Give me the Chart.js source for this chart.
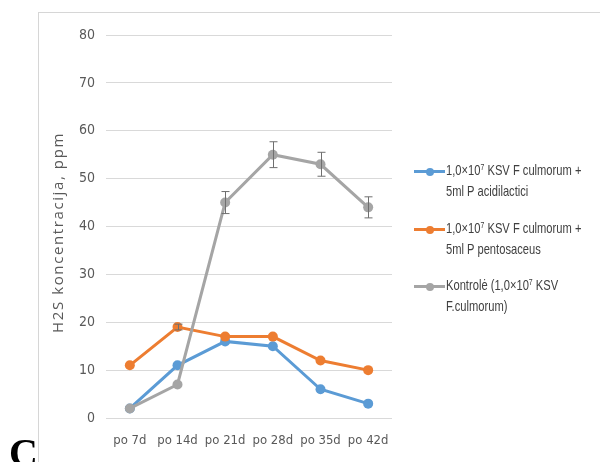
<!DOCTYPE html>
<html>
<head>
<meta charset="utf-8">
<script src="https://cdn.jsdelivr.net/npm/chart.js@4/dist/chart.umd.min.js"></script>
<style>
  html, body { margin: 0; padding: 0; background: #fff; }
  #wrap { position: relative; width: 600px; height: 462px; overflow: hidden; }
  #frame { position: absolute; left: 38px; top: 12px; width: 600px; height: 500px;
           border-left: 1.5px solid #d6d6d6; border-top: 1.5px solid #d6d6d6; }
  canvas { position: absolute; left: 0; top: 0; }
  .legend { position: absolute; left: 414px; font-family: "Liberation Sans", Arial, sans-serif;
            font-size: 14.5px; color: #404040; }
  .item { position: absolute; left: 0; width: 190px; }
  .item .mk { position: absolute; left: 0; top: 10px; width: 31px; height: 3px; }
  .item .mk i { position: absolute; left: 12px; top: -2.5px; width: 8px; height: 8px; border-radius: 50%; }
  .item .tx { position: absolute; left: 32px; top: 0; line-height: 21px; white-space: nowrap;
              transform: scaleX(0.77); transform-origin: 0 0; }
  .item .tx sup { font-size: 9px; vertical-align: 5px; line-height: 0; }
  #letter { position: absolute; left: 9px; top: 433px; font-family: "Liberation Serif", "Times New Roman", serif;
            font-weight: bold; font-size: 40px; color: #000; line-height: 40px; }
</style>
</head>
<body>
<div id="wrap">
  <div id="frame"></div>
  <canvas id="c" width="600" height="462"></canvas>
  <div class="legend" id="legend"></div>
  <div id="letter">C</div>
</div>
<script>
// Sampling days
const categories = ['po 7d', 'po 14d', 'po 21d', 'po 28d', 'po 35d', 'po 42d'];

// H2S concentration (ppm) per treatment
const acidilactici = [2, 11, 16, 15, 6, 3];
const pentosaceus = [11, 19, 17, 17, 12, 10];
const kontrole = [2, 7, 45, 55, 53, 44];

// Standard error of each measurement (0 = bar hidden behind the marker)
const acidilacticiErr = [0, 0, 0, 0, 0, 0];
const pentosaceusErr = [0, 0.6, 0, 0, 0, 0];
const kontroleErr = [0, 0, 2.3, 2.7, 2.5, 2.2];

// Y axis ticks
const yTicks = [0, 10, 20, 30, 40, 50, 60, 70, 80];
const yTitle = 'H2S koncentracija, ppm';

const seriesLabels = [
  ['1,0×10<sup>7</sup> KSV F culmorum +', '5ml P acidilactici'],
  ['1,0×10<sup>7</sup> KSV F culmorum +', '5ml P pentosaceus'],
  ['Kontrolė (1,0×10<sup>7</sup> KSV', 'F.culmorum)']
];
const seriesPlain = [
  '1,0×10⁷ KSV F culmorum + 5ml P acidilactici',
  '1,0×10⁷ KSV F culmorum + 5ml P pentosaceus',
  'Kontrolė (1,0×10⁷ KSV F.culmorum)'
];
const colors = ['#5B9BD5', '#ED7D31', '#A5A5A5'];
const fontFamily = '"DejaVu Sans Condensed", "DejaVu Sans", sans-serif';

function series(i, data, err, order) {
  return {
    label: seriesPlain[i],
    data: data,
    errors: err,
    order: order,
    borderColor: colors[i],
    backgroundColor: colors[i],
    borderWidth: 3,
    pointRadius: 5,
    pointHoverRadius: 5,
    pointBorderWidth: 0,
    tension: 0
  };
}

// Vertical error bars with caps
const errorBars = {
  id: 'errorBars',
  afterDatasetsDraw(chart) {
    const ctx = chart.ctx;
    const y = chart.scales.y;
    ctx.save();
    ctx.strokeStyle = '#6f6f6f';
    ctx.lineWidth = 1;
    chart.data.datasets.forEach((ds, di) => {
      const meta = chart.getDatasetMeta(di);
      meta.data.forEach((pt, i) => {
        const e = ds.errors[i];
        if (!e) return;
        const x = Math.round(pt.x) + 0.5;
        const top = y.getPixelForValue(ds.data[i] + e);
        const bot = y.getPixelForValue(ds.data[i] - e);
        ctx.beginPath();
        ctx.moveTo(x, top); ctx.lineTo(x, bot);
        ctx.moveTo(x - 4, top); ctx.lineTo(x + 4, top);
        ctx.moveTo(x - 4, bot); ctx.lineTo(x + 4, bot);
        ctx.stroke();
      });
    });
    ctx.restore();
  }
};

// Rotated, letter-spaced y axis title centred on the plot height
const yAxisTitle = {
  id: 'yAxisTitle',
  afterDraw(chart) {
    const ctx = chart.ctx;
    const area = chart.chartArea;
    ctx.save();
    ctx.translate(59, (area.top + area.bottom) / 2 + 6);
    ctx.rotate(-Math.PI / 2);
    ctx.font = '15px "Open Sans", sans-serif';
    if ('letterSpacing' in ctx) ctx.letterSpacing = '1.6px';
    ctx.fillStyle = '#595959';
    ctx.textAlign = 'center';
    ctx.textBaseline = 'middle';
    ctx.fillText(yTitle, 0, 0);
    ctx.restore();
  }
};

new Chart(document.getElementById('c'), {
  type: 'line',
  data: {
    labels: categories,
    datasets: [
      series(0, acidilactici, acidilacticiErr, 2),
      series(1, pentosaceus, pentosaceusErr, 1),
      series(2, kontrole, kontroleErr, 0)
    ]
  },
  options: {
    responsive: false,
    animation: false,
    events: [],
    layout: { padding: { left: 51, top: 35, right: 208, bottom: 0 } },
    plugins: { legend: { display: false }, tooltip: { enabled: false } },
    scales: {
      x: {
        offset: true,
        grid: { display: false, drawTicks: false },
        border: { display: false },
        ticks: { color: '#595959', padding: 15, maxRotation: 0, font: { family: fontFamily, size: 13 } },
        afterFit(s) { s.height = 44; }
      },
      y: {
        min: 0, max: 80,
        afterBuildTicks(s) { s.ticks = yTicks.map(v => ({ value: v })); },
        grid: { color: '#d9d9d9', lineWidth: 1, drawTicks: false },
        border: { display: false },
        ticks: { color: '#595959', padding: 11, font: { family: fontFamily, size: 14 } },
        afterFit(s) { s.width = 55; }
      }
    }
  },
  plugins: [errorBars, yAxisTitle]
});

// Legend beside the plot
const legendTops = [160, 218, 275];
const legend = document.getElementById('legend');
seriesLabels.forEach((lines, i) => {
  const item = document.createElement('div');
  item.className = 'item';
  item.style.top = legendTops[i] + 'px';
  item.innerHTML = '<div class="mk" style="background:' + colors[i] + '"><i style="background:' + colors[i] + '"></i></div>' +
    '<div class="tx">' + lines.join('<br>') + '</div>';
  legend.appendChild(item);
});
</script>
</body>
</html>
